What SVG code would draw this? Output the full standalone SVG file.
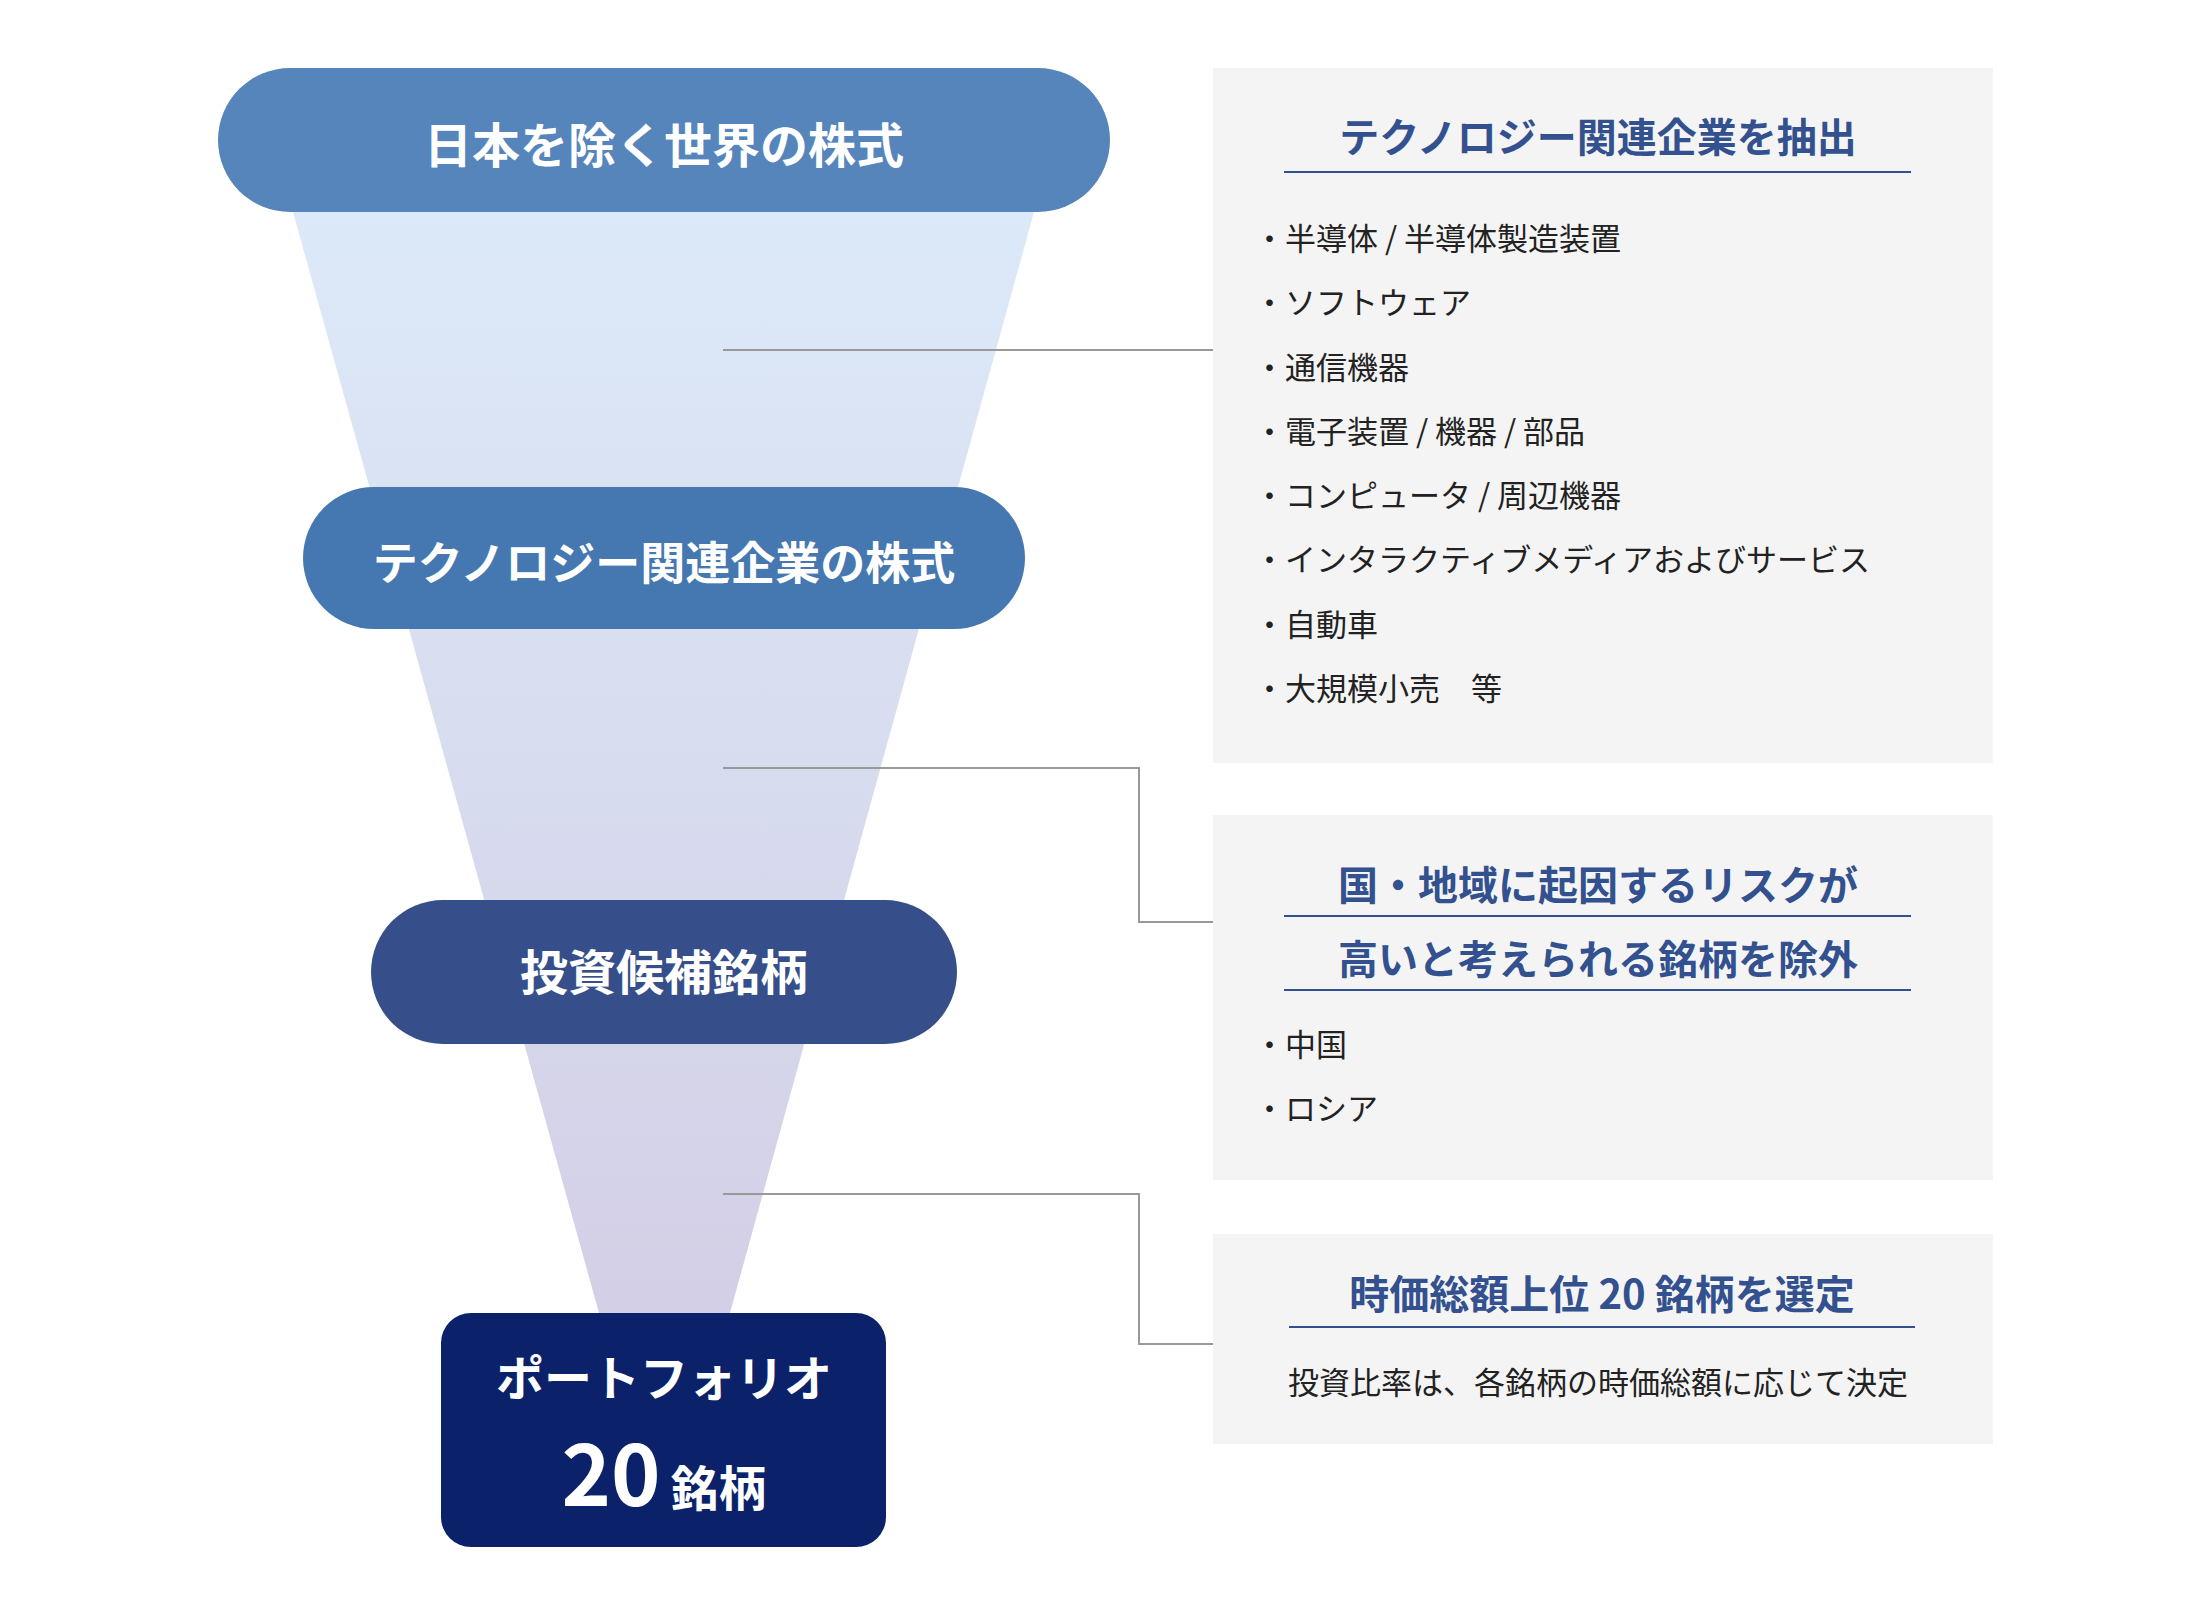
<svg xmlns="http://www.w3.org/2000/svg" width="2200" height="1600" viewBox="0 0 2200 1600">
<style>
.w{font-family:"Noto Sans CJK JP","Noto Sans",sans-serif;font-weight:700;fill:#fff;text-anchor:middle}
.t{font-family:"Noto Sans CJK JP","Noto Sans",sans-serif;font-weight:700;fill:#33508f;font-size:40px;text-anchor:middle}
.b{font-family:"Noto Sans CJK JP","Noto Sans",sans-serif;fill:#222;font-size:31px}
.ul{stroke:#33508f;stroke-width:2}
.panel{fill:#f4f4f4}
.c{fill:none;stroke:#999;stroke-width:2}
</style>
<defs>
<linearGradient id="g" x1="0" y1="0" x2="0" y2="1">
<stop offset="0" stop-color="#dce9f8"/><stop offset="1" stop-color="#d3cfe6"/>
</linearGradient>
</defs>
<rect width="2200" height="1600" fill="#fff"/>
<polygon points="293,212 1034,212 730,1313 599,1313" fill="url(#g)"/>
<g id="connectors">
<path class="c" d="M723,350H1213"/>
<path class="c" d="M723,768H1139V922H1213"/>
<path class="c" d="M723,1194H1139V1344H1213"/>
</g>
<g id="n1"><rect x="218" y="68" width="892" height="144" rx="72" fill="#5585bb"/><text class="w" x="664" y="163" font-size="48">日本を除く世界の株式</text></g>
<g id="n2"><rect x="303" y="487" width="722" height="142" rx="71" fill="#4577b0"/><text class="w" x="664" y="580" font-size="45">テクノロジー関連企業の株式</text></g>
<g id="n3"><rect x="371" y="900" width="586" height="144" rx="72" fill="#364f8a"/><text class="w" x="664" y="990" font-size="48">投資候補銘柄</text></g>
<g id="n4"><rect x="441" y="1313" width="445" height="234" rx="30" fill="#0b226b"/><text class="w" x="664" y="1396" font-size="48">ポートフォリオ</text><text class="w" x="664" y="1506"><tspan font-size="84">20</tspan><tspan font-size="48" dx="10">銘柄</tspan></text></g>
<g id="p1"><rect class="panel" x="1213" y="68" width="780" height="695"/>
<text class="t" x="1598" y="152">テクノロジー関連企業を抽出</text><line class="ul" x1="1284" y1="172" x2="1911" y2="172"/>
<text class="b" x="1254" y="250">・半導体 / 半導体製造装置</text>
<text class="b" x="1254" y="314">・ソフトウェア</text>
<text class="b" x="1254" y="379">・通信機器</text>
<text class="b" x="1254" y="443">・電子装置 / 機器 / 部品</text>
<text class="b" x="1254" y="507">・コンピュータ / 周辺機器</text>
<text class="b" x="1254" y="571">・インタラクティブメディアおよびサービス</text>
<text class="b" x="1254" y="636">・自動車</text>
<text class="b" x="1254" y="700">・大規模小売　等</text>
</g>
<g id="p2"><rect class="panel" x="1213" y="815" width="780" height="365"/>
<text class="t" x="1598" y="900">国・地域に起因するリスクが</text><line class="ul" x1="1284" y1="916" x2="1911" y2="916"/>
<text class="t" x="1598" y="974">高いと考えられる銘柄を除外</text><line class="ul" x1="1284" y1="990" x2="1911" y2="990"/>
<text class="b" x="1254" y="1056">・中国</text>
<text class="b" x="1254" y="1120">・ロシア</text>
</g>
<g id="p3"><rect class="panel" x="1213" y="1234" width="780" height="210"/>
<text class="t" x="1602" y="1309">時価総額上位 20 銘柄を選定</text><line class="ul" x1="1289" y1="1327" x2="1915" y2="1327"/>
<text class="b" x="1598" y="1394" text-anchor="middle">投資比率は、各銘柄の時価総額に応じて決定</text>
</g>
</svg>
